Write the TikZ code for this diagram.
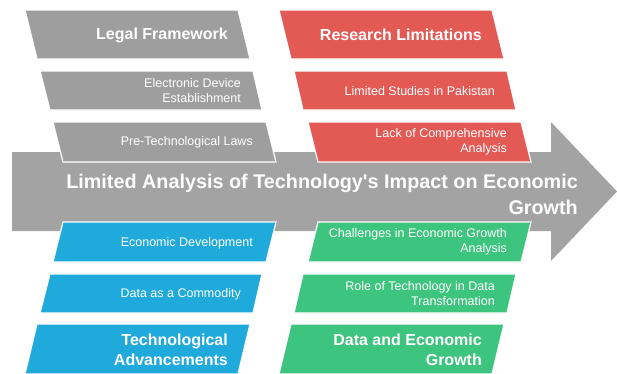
\documentclass[tikz,border=0pt]{standalone}
\usepackage{fontspec}
\setmainfont{Liberation Sans}
\begin{document}
\begin{tikzpicture}[x=1pt,y=-1pt,
  box/.style={draw=white,line width=1.2pt,line join=miter},
  lbl/.style={anchor=east,align=right,text=white,inner sep=0pt,font=\fontsize{12.5}{15}\selectfont},
  head/.style={anchor=east,align=right,text=white,inner sep=0pt,font=\fontsize{16}{20}\selectfont\bfseries},
  main/.style={anchor=east,align=right,text=white,inner sep=0pt,font=\fontsize{19.8}{26}\selectfont\bfseries}]
\definecolor{cgray}{HTML}{9E9E9E}
\definecolor{carrow}{HTML}{A3A3A3}
\definecolor{cred}{HTML}{E35A55}
\definecolor{cblue}{HTML}{1FAADB}
\definecolor{cgreen}{HTML}{3DC47E}
\useasboundingbox (0,0) rectangle (617,373);
% arrow
\fill[carrow] (12,152) -- (551,152) -- (551,122) -- (617,191.5) -- (551,261) -- (551,231) -- (12,231) -- cycle;
\node[main] (mt) at (578,194) {Limited Analysis of Technology\textquotesingle s Impact on Economic\\Growth};
% gray
\fill[cgray,box] (25,10) -- (238,10) -- (250,59) -- (37,59) -- cycle;
\fill[cgray,box] (40,71) -- (253,71) -- (262,110) -- (50,110) -- cycle;
\fill[cgray,box] (53,122) -- (266,122) -- (276,162) -- (63,162) -- cycle;
\node[head] (g1) at (228,35) {Legal Framework};
\node[lbl] (g2) at (241,90.5) {Electronic Device\\Establishment};
\node[lbl] (g3) at (253,142) {Pre-Technological Laws};
% red
\fill[cred,box] (279,10) -- (492,10) -- (504,59) -- (291,59) -- cycle;
\fill[cred,box] (294,71) -- (507,71) -- (516,110) -- (303,110) -- cycle;
\fill[cred,box] (308,122) -- (521,122) -- (531,162) -- (318,162) -- cycle;
\node[head] (r1) at (482,35) {Research Limitations};
\node[lbl] (r2) at (495,91) {Limited Studies in Pakistan};
\node[lbl] (r3) at (507,142) {Lack of Comprehensive\\Analysis};
% blue
\fill[cblue,box] (63,222) -- (276,222) -- (266,262) -- (53,262) -- cycle;
\fill[cblue,box] (50,274) -- (262,274) -- (253,313) -- (40,313) -- cycle;
\fill[cblue,box] (37,324) -- (250,324) -- (238,374) -- (25,374) -- cycle;
\node[lbl] (b1) at (253,243) {Economic Development};
\node[lbl] (b2) at (241,294) {Data as a Commodity};
\node[head] (b3) at (228,350) {Technological\\Advancements};
% green
\fill[cgreen,box] (318,222) -- (531,222) -- (521,262) -- (308,262) -- cycle;
\fill[cgreen,box] (303,274) -- (516,274) -- (507,313) -- (294,313) -- cycle;
\fill[cgreen,box] (291,324) -- (504,324) -- (492,374) -- (279,374) -- cycle;
\node[lbl] (e1) at (507,242) {Challenges in Economic Growth\\Analysis};
\node[lbl] (e2) at (495,294) {Role of Technology in Data\\Transformation};
\node[head] (e3) at (482,350) {Data and Economic\\Growth};
\end{tikzpicture}
\end{document}
